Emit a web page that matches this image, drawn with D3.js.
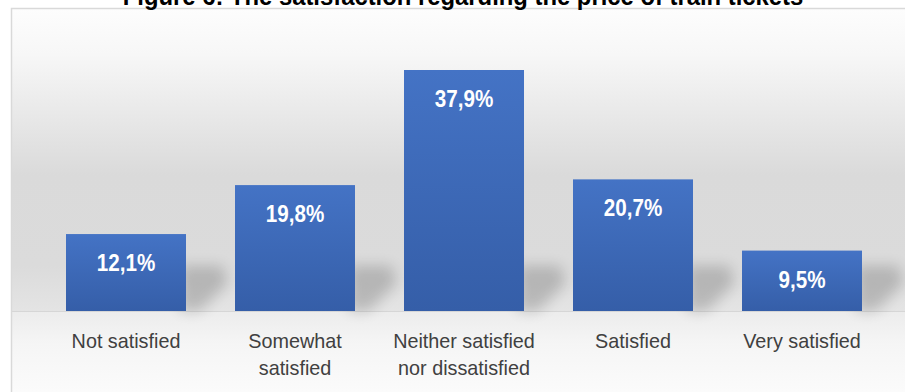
<!DOCTYPE html>
<html>
<head>
<meta charset="utf-8">
<script src="https://cdn.jsdelivr.net/npm/d3@7"></script>
<style>
  body { margin: 0; background: #fff; }
  svg { display: block; }
  text { font-family: "Liberation Sans Narrow", "Arial Narrow", "Liberation Sans", sans-serif; }
</style>
</head>
<body>
<svg width="905" height="392"></svg>
<script>
let categories = [["Not satisfied"], ["Somewhat", "satisfied"], ["Neither satisfied", "nor dissatisfied"], ["Satisfied"], ["Very satisfied"]],
    values = [12.1, 19.8, 37.9, 20.7, 9.5],
    labels = ["12,1%", "19,8%", "37,9%", "20,7%", "9,5%"],
    title = "Figure 6: The satisfaction regarding the price of train tickets";

let svg = d3.select("svg"),
    width = +svg.attr("width"),
    height = +svg.attr("height"),
    base = 311;

let defs = svg.append("defs");

// wall gradient
let wall = defs.append("linearGradient").attr("id", "wall")
  .attr("gradientUnits", "userSpaceOnUse").attr("x1", 0).attr("y1", 9).attr("x2", 0).attr("y2", base);
[[0, "#fdfdfd"], [0.15, "#f7f7f7"], [0.55, "#dadada"], [0.85, "#dbdbdb"], [1, "#e4e4e4"]].forEach(s =>
  wall.append("stop").attr("offset", s[0]).attr("stop-color", s[1]));

let floor = defs.append("linearGradient").attr("id", "floor")
  .attr("x1", 0).attr("y1", 0).attr("x2", 0).attr("y2", 1);
[[0, "#ececec"], [0.4, "#f5f5f5"], [1, "#fbfbfb"]].forEach(s =>
  floor.append("stop").attr("offset", s[0]).attr("stop-color", s[1]));

let barGrad = defs.append("linearGradient").attr("id", "bar")
  .attr("x1", 0).attr("y1", 0).attr("x2", 0).attr("y2", 1);
barGrad.append("stop").attr("offset", 0).attr("stop-color", "#4473c5");
barGrad.append("stop").attr("offset", 1).attr("stop-color", "#355ea8");

defs.append("filter").attr("id", "blur").attr("x", "-50%").attr("y", "-50%").attr("width", "200%").attr("height", "200%")
  .append("feGaussianBlur").attr("stdDeviation", 7);

// chart frame
svg.append("rect").attr("x", 11.5).attr("y", 9).attr("width", width).attr("height", base - 9)
  .attr("fill", "url(#wall)");
svg.append("rect").attr("x", 11.5).attr("y", base).attr("width", width).attr("height", height - base)
  .attr("fill", "url(#floor)");
svg.append("line").attr("x1", 11.5).attr("x2", width).attr("y1", base + 0.5).attr("y2", base + 0.5)
  .attr("stroke", "#d6d6d6");
svg.append("path").attr("d", `M11.5,${height}V8.5H${width}`).attr("fill", "none")
  .attr("stroke", "#d9d9d9").attr("stroke-width", 1.5);

// title (cut by the top edge, as in the source figure)
svg.append("text").attr("transform", "translate(463,5) scale(0.9,1)").attr("text-anchor", "middle")
  .attr("font-size", 26.5).attr("font-weight", "bold").attr("fill", "#000").text(title);

let x = d3.scaleBand().domain(d3.range(values.length)).range([41.5, 886.5]).paddingInner(0.29).paddingOuter(0.145);
let y = d3.scaleLinear().domain([0, 37.9]).range([base, 70]);

// soft shadows cast behind bars
svg.append("g").selectAll("path").data(values).join("path")
  .attr("d", (d, i) => {
    let xr = x(i) + x.bandwidth(), h = Math.min(45, base - y(d) - 10);
    return `M${xr - 6},${base}L${xr + 14},${base}L${xr + 42},${base - 28}L${xr + 36},${base - h}L${xr - 6},${base - h}Z`;
  })
  .attr("fill", "#000").attr("opacity", 0.18).attr("filter", "url(#blur)");

svg.append("g").selectAll("rect").data(values).join("rect")
  .attr("x", (d, i) => x(i)).attr("y", d => y(d))
  .attr("width", x.bandwidth()).attr("height", d => base - y(d))
  .attr("fill", "url(#bar)");

svg.append("g").selectAll("text").data(values).join("text")
  .attr("transform", (d, i) => `translate(${x(i) + x.bandwidth() / 2},${y(d) + 37}) scale(0.86,1)`)
  .attr("text-anchor", "middle").attr("font-size", 24).attr("font-weight", "bold")
  .attr("fill", "#fff").text((d, i) => labels[i]);

let cat = svg.append("g").selectAll("text").data(categories).join("text")
  .attr("transform", (d, i) => `translate(${x(i) + x.bandwidth() / 2},348) scale(0.965,1)`)
  .attr("text-anchor", "middle").attr("font-size", 20.5).attr("fill", "#404040");
cat.selectAll("tspan").data(d => d).join("tspan")
  .attr("x", 0).attr("dy", (d, j) => j ? 27 : 0).text(d => d);
</script>
</body>
</html>
